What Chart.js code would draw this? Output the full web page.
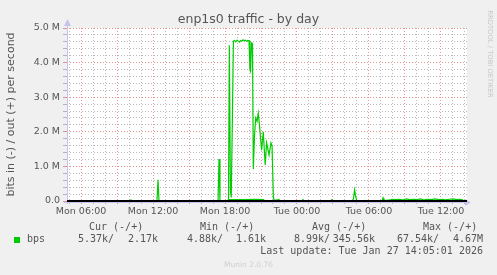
<!DOCTYPE html>
<html>
<head>
<meta charset="utf-8">
<script src="https://cdn.jsdelivr.net/npm/chart.js@4/dist/chart.umd.min.js"></script>
<style>
  html, body { margin: 0; padding: 0; background: #f0f0f0; }
  #wrap { position: relative; width: 497px; height: 275px; overflow: hidden; }
  #graf { position: absolute; left: 0; top: 0; }
  .txt { position: absolute; white-space: pre; color: #555; line-height: 1; }
  .mono { font-family: "DejaVu Sans Mono", monospace; font-size: 10px; }
</style>
</head>
<body>
<div id="wrap">
  <canvas id="graf" width="497" height="275"></canvas>
  <div class="txt" style="left:0;width:497px;text-align:center;top:11px;font:12.5px 'DejaVu Sans';color:#555;">enp1s0 traffic - by day</div>
  <div class="txt" style="left:435px;top:50px;width:110px;text-align:center;transform:rotate(90deg);font:6.8px 'DejaVu Sans';color:#c8c8c8;">RRDTOOL / TOBI OETIKER</div>

  <div class="txt mono" style="left:89px;top:222px;">Cur (-/+)</div>
  <div class="txt mono" style="left:200px;top:222px;">Min (-/+)</div>
  <div class="txt mono" style="left:312px;top:222px;">Avg (-/+)</div>
  <div class="txt mono" style="left:423px;top:222px;">Max (-/+)</div>

  <div style="position:absolute;left:14px;top:237px;width:6px;height:6px;background:#00cc00;"></div>
  <div class="txt mono" style="left:27px;top:234px;">bps</div>
  <div class="txt mono" style="left:78px;top:234px;">5.37k/</div>
  <div class="txt mono" style="right:339px;top:234px;">2.17k</div>
  <div class="txt mono" style="left:187px;top:234px;">4.88k/</div>
  <div class="txt mono" style="right:231px;top:234px;">1.61k</div>
  <div class="txt mono" style="left:294px;top:234px;">8.99k/</div>
  <div class="txt mono" style="right:122px;top:234px;">345.56k</div>
  <div class="txt mono" style="left:397px;top:234px;">67.54k/</div>
  <div class="txt mono" style="right:14px;top:234px;">4.67M</div>

  <div class="txt mono" style="right:14px;top:246px;">Last update: Tue Jan 27 14:05:01 2026</div>
  <div class="txt" style="left:0;width:497px;text-align:center;top:260px;font:7.5px 'DejaVu Sans';color:#d0d0d0;">Munin 2.0.76</div>
</div>

<script>
// horas desde lunes 00:00 y trafico de salida (Mbit/s)
const horasSalida = [
  4.83, 10.1, 10.17, 10.25, 12.33, 12.42, 12.5, 17.42, 17.5, 17.58,
  18.29, 18.36, 18.45, 18.52, 18.62, 18.7, 18.8, 18.9, 19.0, 19.1,
  19.2, 19.3, 19.4, 19.5, 19.6, 19.7, 19.8, 19.9, 20.0, 20.08,
  20.13, 20.21, 20.29, 20.36, 20.46, 20.56, 20.67, 20.77, 20.87, 21.05,
  21.19, 21.35, 21.47, 21.67, 21.83, 21.92, 22.03, 22.1, 22.5, 22.6,
  24.4, 24.5, 24.6, 26.8, 26.9, 27.0, 28.6, 28.7, 28.8, 28.88,
  28.96, 29.05, 31.1, 31.17, 31.25, 31.8, 31.9, 32.2, 32.5, 32.8,
  33.1, 33.4, 33.7, 34.0, 34.3, 34.6, 34.9, 35.2, 35.5, 35.8,
  36.1, 36.4, 36.7, 37.0, 37.3, 37.6, 37.85
];
const salidaMbps = [
  0, 0, 0.03, 0, 0, 0.61, 0, 0, 1.21, 0,
  0.02, 4.5, 0.3, 0.1, 2.5, 4.62, 4.64, 4.6, 4.65, 4.62,
  4.59, 4.64, 4.62, 4.66, 4.63, 4.65, 4.62, 4.64, 4.63, 3.8,
  3.75, 4.57, 4.55, 0.92, 1.9, 2.4, 2.3, 2.54, 2.2, 1.47,
  2.0, 1.04, 1.68, 1.33, 1.68, 1.6, 0.1, 0.02, 0.04, 0,
  0, 0.04, 0, 0, 0.04, 0, 0, 0.06, 0.32, 0.15,
  0.03, 0, 0, 0.09, 0.01, 0.03, 0.05, 0.04, 0.05, 0.03,
  0.06, 0.04, 0.05, 0.04, 0.06, 0.03, 0.05, 0.04, 0.06, 0.04,
  0.05, 0.03, 0.05, 0.06, 0.04, 0.05, 0.03
];

// trafico de entrada (Mbit/s)
const horasEntrada = [4.83, 18.2, 18.3, 19.5, 20.5, 21.2, 21.3, 37.85];
const entradaMbps  = [0, 0, 0.04, 0.04, 0.05, 0.04, 0, 0];

// eje x: horas, etiquetas cada 6 h
const inicioHoras = 4.8333;
const finHoras = 38.1667;
const dias = ["Mon", "Tue"];

const rojoGrid = "rgba(225,110,110,0.75)";
const grisGrid = "rgba(140,140,140,0.6)";

function puntos(xs, ys) {
  return xs.map((h, i) => ({ x: h, y: ys[i] }));
}

function etiquetaHora(v) {
  if (v % 6 !== 0) return "";
  const dia = dias[Math.floor(v / 24)];
  const hh = String(v % 24).padStart(2, "0");
  return `${dia} ${hh}:00`;
}

function etiquetaMega(v) {
  if (Math.abs(v - Math.round(v)) > 1e-6) return "";
  return Math.round(v) === 0 ? "0.0" : Math.round(v).toFixed(1) + " M";
}

// Fondo blanco del area de trazado, ejes y linea de cero
const ejesMunin = {
  id: "ejesMunin",
  beforeDraw(chart) {
    const { ctx, chartArea: a } = chart;
    ctx.save();
    ctx.fillStyle = "#ffffff";
    ctx.fillRect(a.left, a.top, a.right - a.left, a.bottom - a.top);
    ctx.restore();
  },
  afterDatasetsDraw(chart) {
    const { ctx, chartArea: a, scales } = chart;
    const y0 = Math.round(scales.y.getPixelForValue(0));
    ctx.save();
    ctx.strokeStyle = "#c4c4ee";
    ctx.fillStyle = "#c4c4ee";
    ctx.lineWidth = 1;
    ctx.beginPath();
    ctx.moveTo(a.left - 3, y0 + 1.5);
    ctx.lineTo(a.right, y0 + 1.5);
    ctx.moveTo(a.left + 0.5, y0 + 3);
    ctx.lineTo(a.left + 0.5, a.top - 5);
    ctx.stroke();
    // flechas
    ctx.beginPath();
    ctx.moveTo(a.right + 4, y0 + 1.5);
    ctx.lineTo(a.right - 2, y0 - 2);
    ctx.lineTo(a.right - 2, y0 + 5);
    ctx.closePath();
    ctx.fill();
    ctx.beginPath();
    ctx.moveTo(a.left + 0.5, a.top - 9);
    ctx.lineTo(a.left - 3, a.top - 2);
    ctx.lineTo(a.left + 4, a.top - 2);
    ctx.closePath();
    ctx.fill();
    // linea de cero
    ctx.strokeStyle = "#000000";
    ctx.lineWidth = 2;
    ctx.beginPath();
    ctx.moveTo(a.left, y0);
    ctx.lineTo(a.right, y0);
    ctx.stroke();
    ctx.restore();
  }
};

const ctx = document.getElementById("graf").getContext("2d");
const grafico = new Chart(ctx, {
  type: "line",
  data: {
    datasets: [
      {
        label: "bps out",
        data: puntos(horasSalida, salidaMbps),
        borderColor: "#00cc00",
        borderWidth: 1.2,
        pointRadius: 0,
        tension: 0,
        fill: false
      },
      {
        label: "bps in",
        data: puntos(horasEntrada, entradaMbps),
        borderColor: "#00cc00",
        borderWidth: 1.2,
        pointRadius: 0,
        tension: 0,
        fill: false
      }
    ]
  },
  options: {
    responsive: false,
    devicePixelRatio: 1,
    animation: false,
    layout: { padding: { left: 0, top: 28, right: 30, bottom: 54 } },
    plugins: {
      legend: { display: false },
      tooltip: { enabled: false }
    },
    scales: {
      x: {
        type: "linear",
        min: inicioHoras,
        max: finHoras,
        afterFit: (s) => { s.height = 20; },
        afterBuildTicks: (s) => {
          const t = [];
          for (let h = Math.ceil(inicioHoras); h <= finHoras; h++) t.push({ value: h });
          s.ticks = t;
        },
        ticks: {
          autoSkip: false,
          maxRotation: 0,
          padding: 2,
          color: "#555",
          font: { family: "DejaVu Sans", size: 9.5 },
          callback: (v) => etiquetaHora(v)
        },
        grid: {
          color: (c) => (c.tick.value % 3 === 0 ? rojoGrid : grisGrid),
          tickColor: (c) => (c.tick.value % 3 === 0 ? rojoGrid : grisGrid),
          tickLength: 3,
          lineWidth: 1
        },
        border: { display: false, dash: [1, 2] }
      },
      y: {
        min: 0,
        max: 5,
        afterFit: (s) => { s.width = 67; },
        ticks: {
          stepSize: 0.2,
          autoSkip: false,
          padding: 3,
          color: "#555",
          font: { family: "DejaVu Sans", size: 9.5 },
          callback: (v) => etiquetaMega(v)
        },
        grid: {
          color: (c) => (Math.abs(c.tick.value - Math.round(c.tick.value)) < 1e-6 ? rojoGrid : grisGrid),
          tickColor: (c) => (Math.abs(c.tick.value - Math.round(c.tick.value)) < 1e-6 ? rojoGrid : grisGrid),
          tickLength: 4,
          lineWidth: 1
        },
        border: { display: false, dash: [1, 2] },
        title: {
          display: true,
          text: "bits in (-) / out (+) per second",
          color: "#555",
          font: { family: "DejaVu Sans", size: 11 },
          padding: { top: 5, bottom: 0 }
        }
      }
    }
  },
  plugins: [ejesMunin]
});
</script>
</body>
</html>
